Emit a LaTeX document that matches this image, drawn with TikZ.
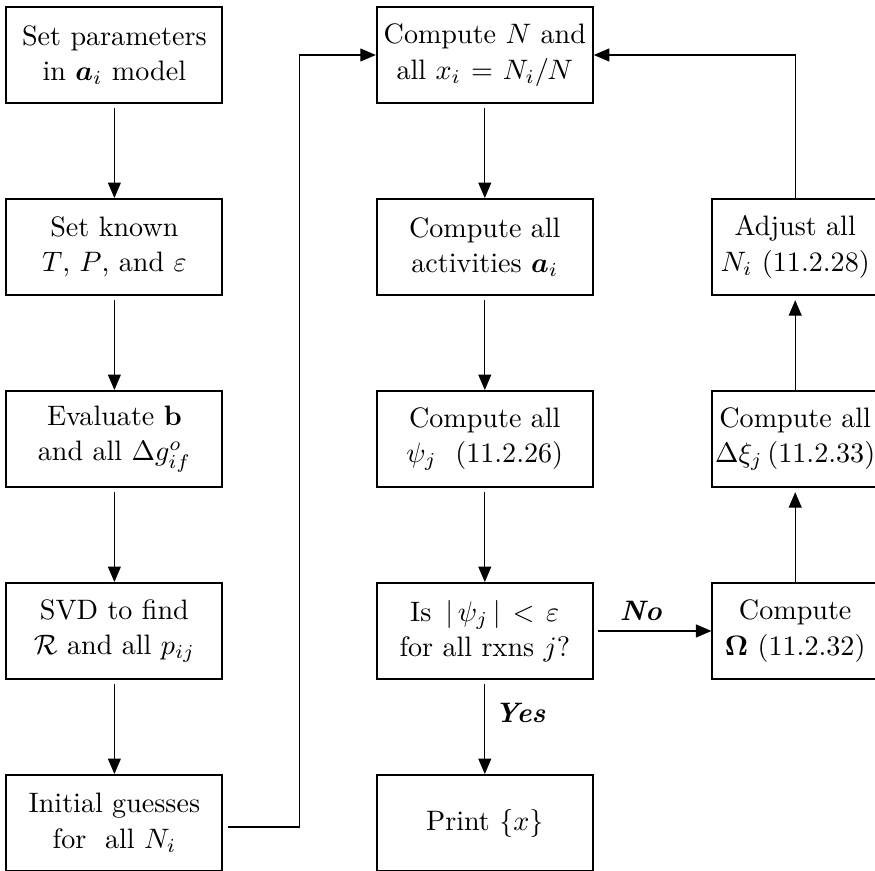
\documentclass[tikz,border=0pt]{standalone}
\usepackage{bm}
\usetikzlibrary{arrows.meta}
\tikzset{>={Triangle[length=5.5pt,width=4.6pt]}}

\begin{document}
\begin{tikzpicture}[
  stepbox/.style={rectangle, draw=black, line width=0.7pt, text width=2.6cm,
    minimum height=1.2cm, align=center, font=\fontsize{10}{12.6}\selectfont,
    inner xsep=0.05cm, inner ysep=2pt},
  sidebox/.style={stepbox, text width=2.05cm, inner xsep=0.01cm},
  flowarrow/.style={->, line width=0.4pt},
  answer/.style={font=\fontsize{10}{12}\selectfont\bfseries\itshape}
]
\useasboundingbox (0,0) rectangle (10.9375,10.8875);

% ---------- Left column ----------
\node[stepbox] (setpar) at (1.43,10.2) {Set parameters\\in $\bm{a}_i$ model};
\node[stepbox] (known) at (1.43,7.8) {Set known\\$T$, $P$, and $\varepsilon$};
\node[stepbox] (evalb) at (1.43,5.4) {Evaluate $\mathbf{b}$\\and all $\Delta g^{o}_{if}$};
\node[stepbox] (svd) at (1.43,3.0) {SVD to find\\$\mathcal{R}$ and all $p_{ij}$};
\node[stepbox] (guess) at (1.43,0.6) {Initial guesses\\for\ \ all $N_i$};

% ---------- Middle column ----------
\node[stepbox] (compN) at (6.06,10.2) {Compute $N$ and\\all $x_i = N_i/N$};
\node[stepbox] (acts) at (6.06,7.8) {Compute all\\activities $\bm{a}_i$};
\node[stepbox] (psi) at (6.06,5.4) {Compute all\\$\psi_j$\ \ (11.2.26)};
\node[stepbox] (test) at (6.06,3.0) {Is $\,|\,\psi_j\,|<\varepsilon$\\for all rxns $j$?};
\node[stepbox] (print) at (6.06,0.6) {Print $\{x\}$};

% ---------- Right column ----------
\node[sidebox] (adjust) at (9.94,7.8) {Adjust all\\$N_i$ (11.2.28)};
\node[sidebox] (dxi) at (9.94,5.4) {Compute all\\\mbox{$\Delta\xi_j$\,(11.2.33)}};
\node[sidebox] (omega) at (9.94,3.0) {Compute\\$\mathbf{\Omega}$ (11.2.32)};

% ---------- Setup arrows ----------
\draw[flowarrow, shorten <=1.5pt] (setpar.south) -- (known.north);
\draw[flowarrow, shorten <=1.5pt] (known.south) -- (evalb.north);
\draw[flowarrow, shorten <=1.5pt] (evalb.south) -- (svd.north);
\draw[flowarrow, shorten <=1.5pt] (svd.south) -- (guess.north);
\draw[flowarrow, shorten <=1.5pt] ([yshift=-0.05cm]guess.east) -- ++(0.95,0) |- (compN.west);

% ---------- Iteration arrows ----------
\draw[flowarrow, shorten <=1.5pt] (compN.south) -- (acts.north);
\draw[flowarrow, shorten <=1.5pt] (acts.south) -- (psi.north);
\draw[flowarrow, shorten <=1.5pt] (psi.south) -- (test.north);
\draw[flowarrow, shorten <=1.5pt] (test.south) -- (print.north)
  node[answer, pos=0.35, right] {Yes};
\draw[flowarrow, shorten <=1.5pt] (test.east) -- (omega.west)
  node[answer, pos=0.4, above] {No};
\draw[flowarrow, shorten >=1.5pt] (omega.north) -- (dxi.south);
\draw[flowarrow, shorten >=1.5pt] (dxi.north) -- (adjust.south);
\draw[flowarrow] (adjust.north) |- (compN.east);

\end{tikzpicture}
\end{document}
